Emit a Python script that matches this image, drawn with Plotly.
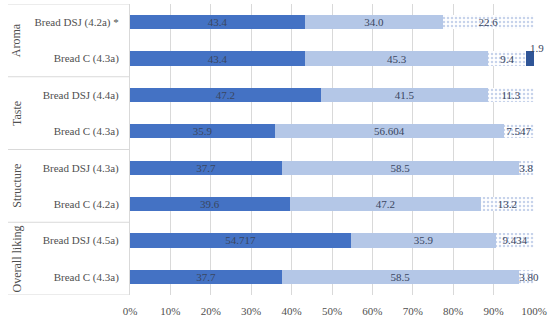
import plotly.graph_objects as go

groups = ["Aroma", "Taste", "Structure", "Overall liking"]
row_labels = ["Bread DSJ (4.2a) *", "Bread C (4.3a)",
              "Bread DSJ (4.4a)", "Bread C (4.3a)",
              "Bread DSJ (4.3a)", "Bread C (4.2a)",
              "Bread DSJ (4.5a)", "Bread C (4.3a)"]
s1 = [43.4, 43.4, 47.2, 35.9, 37.7, 39.6, 54.717, 37.7]
s2 = [34.0, 45.3, 41.5, 56.604, 58.5, 47.2, 35.9, 58.5]
s3 = [22.6, 9.4, 11.3, 7.547, 3.8, 13.2, 9.434, 3.8]
s4 = [0, 1.9, 0, 0, 0, 0, 0, 0]
s1_text = ["43.4", "43.4", "47.2", "35.9", "37.7", "39.6", "54.717", "37.7"]
s2_text = ["34.0", "45.3", "41.5", "56.604", "58.5", "47.2", "35.9", "58.5"]
s3_text = ["22.6", "9.4", "11.3", "7.547", "3.8", "13.2", "9.434", "3.8"]
s4_text = ["", "1.9", "", "", "", "", "", "0"]
x_ticks = [0, 10, 20, 30, 40, 50, 60, 70, 80, 90, 100]

FONT = "Liberation Serif"
TXT = "#505050"
BAR_TXT = "#3A4660"
ypos = list(range(len(row_labels)))

def bar_font():
    return dict(family=FONT, size=11, color=BAR_TXT)

fig = go.Figure()
fig.add_trace(go.Bar(y=ypos, x=s1, orientation="h", marker=dict(color="#4472C4", line=dict(width=0)),
                     text=s1_text, textposition="inside", insidetextanchor="middle",
                     constraintext="none", textfont=bar_font()))
fig.add_trace(go.Bar(y=ypos, x=s2, orientation="h", marker=dict(color="#B4C7E7", line=dict(width=0)),
                     text=s2_text, textposition="inside", insidetextanchor="middle",
                     constraintext="none", textfont=bar_font()))
fig.add_trace(go.Bar(y=ypos, x=s3, orientation="h",
                     marker=dict(color="white", line=dict(width=0),
                                 pattern=dict(shape=".", fgcolor="#8EA6D6", bgcolor="white",
                                              size=4, solidity=0.3)),
                     text=s3_text, textposition="inside", insidetextanchor="middle",
                     constraintext="none", textfont=bar_font()))
fig.add_trace(go.Bar(y=ypos, x=s4, orientation="h", marker=dict(color="#2F5597", line=dict(width=0)),
                     textposition="none"))

ann = []
for i, t in enumerate(s4_text):
    if t:
        above = s4[i] > 0
        ann.append(dict(x=100, y=i, xref="x", yref="y", text=t, showarrow=False,
                        xanchor="center", yanchor="bottom" if above else "middle",
                        yshift=3 if above else 0, xshift=3 if above else 2,
                        font=dict(family=FONT, size=11, color=BAR_TXT)))
for g, name in enumerate(groups):
    ann.append(dict(x=-0.28, y=2 * g + 0.5, xref="paper", yref="y", text=name, showarrow=False,
                    textangle=-90, xanchor="center", yanchor="middle",
                    font=dict(family=FONT, size=12, color=TXT)))

shapes = []
for b in [-0.5, 1.5, 3.5, 5.5, 7.5]:
    shapes.append(dict(type="line", xref="paper", yref="y", x0=-0.302, x1=0, y0=b, y1=b,
                       line=dict(color="#D9D9D9", width=1)))

fig.update_layout(
    barmode="stack", bargap=0.61, showlegend=False,
    width=550, height=320, margin=dict(l=130, r=16, t=4, b=25),
    plot_bgcolor="white", paper_bgcolor="white",
    font=dict(family=FONT, size=11, color=TXT),
    annotations=ann, shapes=shapes,
    xaxis=dict(range=[0, 100], tickvals=x_ticks, ticktext=[f"{v}%" for v in x_ticks],
               showgrid=True, gridcolor="#D9D9D9", gridwidth=1, zeroline=False,
               showline=False, ticks="", ticklabelstandoff=8, automargin=False,
               tickfont=dict(family=FONT, size=11, color=TXT)),
    yaxis=dict(tickvals=ypos, ticktext=row_labels, range=[7.5, -0.5], autorange=False,
               showgrid=False, zeroline=False, showline=True, linecolor="#D9D9D9",
               ticks="", ticklabelstandoff=8, automargin=False,
               tickfont=dict(family=FONT, size=11, color=TXT)),
)
fig.write_html("out.html", config={"displayModeBar": False},
               post_script="document.body.style.margin='0';document.body.style.overflow='hidden';")
